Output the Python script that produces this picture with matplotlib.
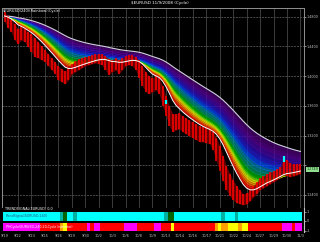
import numpy as np
import pandas as pd
import matplotlib
matplotlib.use("Agg")
import matplotlib.pyplot as plt

title = "$EURUSD 11/9/2008 (Cycle)"
legend_text = "$EURUSD(240)(Rainbow)(Cycle)"

close = [1.4810, 1.4756, 1.4702, 1.4648, 1.4581, 1.4621, 1.4581, 1.4540, 1.4513, 1.4459,
         1.4405, 1.4352, 1.4298, 1.4244, 1.4190, 1.4136, 1.4082, 1.4042, 1.4015, 1.4055,
         1.4109, 1.4150, 1.4176, 1.4190, 1.4203, 1.4217, 1.4230, 1.4244, 1.4244, 1.4244,
         1.4217, 1.4176, 1.4163, 1.4190, 1.4163, 1.4190, 1.4217, 1.4230, 1.4230, 1.4203,
         1.4163, 1.4082, 1.4001, 1.3948, 1.3921, 1.3948, 1.3921, 1.3813, 1.3678, 1.3544,
         1.3436, 1.3436, 1.3449, 1.3409, 1.3382, 1.3355, 1.3328, 1.3301, 1.3274, 1.3261,
         1.3247, 1.3234, 1.3193, 1.3113, 1.3005, 1.2870, 1.2735, 1.2628, 1.2547, 1.2466,
         1.2412, 1.2358, 1.2372, 1.2412, 1.2466, 1.2520, 1.2574, 1.2601, 1.2628, 1.2628,
         1.2655, 1.2682, 1.2709, 1.2735, 1.2722, 1.2709, 1.2722, 1.2735, 1.2749]
high = [1.4864, 1.4810, 1.4756, 1.4702, 1.4635, 1.4675, 1.4635, 1.4594, 1.4567, 1.4513,
        1.4459, 1.4406, 1.4352, 1.4298, 1.4244, 1.4190, 1.4136, 1.4096, 1.4069, 1.4109,
        1.4163, 1.4204, 1.4230, 1.4244, 1.4257, 1.4271, 1.4284, 1.4298, 1.4298, 1.4298,
        1.4271, 1.4230, 1.4217, 1.4244, 1.4217, 1.4244, 1.4271, 1.4284, 1.4284, 1.4257,
        1.4217, 1.4136, 1.4055, 1.4002, 1.3975, 1.4002, 1.3975, 1.3867, 1.3732, 1.3598,
        1.3490, 1.3490, 1.3503, 1.3463, 1.3436, 1.3409, 1.3382, 1.3355, 1.3328, 1.3315,
        1.3301, 1.3288, 1.3247, 1.3167, 1.3059, 1.2924, 1.2789, 1.2682, 1.2601, 1.2520,
        1.2466, 1.2412, 1.2426, 1.2466, 1.2520, 1.2574, 1.2628, 1.2655, 1.2682, 1.2709,
        1.2722, 1.2749, 1.2776, 1.2897, 1.2870, 1.2830, 1.2816, 1.2816, 1.2816]
low = [1.4729, 1.4648, 1.4594, 1.4486, 1.4432, 1.4486, 1.4459, 1.4392, 1.4325, 1.4257,
       1.4244, 1.4217, 1.4190, 1.4136, 1.4082, 1.4028, 1.3948, 1.3921, 1.3894, 1.3948,
       1.4028, 1.4055, 1.4082, 1.4109, 1.4136, 1.4150, 1.4163, 1.4176, 1.4163, 1.4150,
       1.4082, 1.4015, 1.4055, 1.4082, 1.4028, 1.4082, 1.4136, 1.4150, 1.4136, 1.4082,
       1.3975, 1.3867, 1.3786, 1.3759, 1.3786, 1.3813, 1.3759, 1.3598, 1.3463, 1.3328,
       1.3247, 1.3274, 1.3288, 1.3247, 1.3220, 1.3193, 1.3166, 1.3140, 1.3113, 1.3113,
       1.3099, 1.3086, 1.3005, 1.2857, 1.2722, 1.2587, 1.2466, 1.2385, 1.2331, 1.2291,
       1.2278, 1.2264, 1.2278, 1.2318, 1.2372, 1.2412, 1.2466, 1.2493, 1.2520, 1.2547,
       1.2574, 1.2601, 1.2641, 1.2668, 1.2655, 1.2641, 1.2655, 1.2668, 1.2682]

price_ticks = [1.48, 1.44, 1.40, 1.36, 1.32, 1.28, 1.24]
date_labels = ["9/19", "9/22", "9/23", "9/25", "9/26", "9/29", "9/30", "10/2", "10/3",
               "10/6", "10/8", "10/9", "10/13", "10/14", "10/16", "10/17", "10/21",
               "10/22", "10/24", "10/27", "10/29", "10/30", "11/3"]
cyan_marks = [(48, 1.3624, 1.3678), (83, 1.2843, 1.2924)]

signal_runs = [("c", 17), ("t", 1), ("d", 1), ("c", 2), ("t", 1), ("c", 26), ("t", 1),
               ("d", 2), ("c", 14), ("t", 1), ("c", 3), ("t", 1), ("c", 19)]
cycle_runs = [("m", 11), ("r", 6), ("o", 1), ("y", 1), ("r", 6), ("m", 1), ("r", 1),
              ("m", 2), ("r", 7), ("m", 4), ("r", 5), ("m", 2), ("r", 3), ("y", 1),
              ("r", 12), ("o", 1), ("y", 1), ("o", 2), ("y", 3), ("o", 1), ("y", 2),
              ("r", 10), ("m", 3), ("r", 1), ("m", 2)]

fast_period = 6
ribbon_periods = [7, 8, 9, 10, 11, 12, 13, 15, 17, 19, 21, 24, 27, 30, 34, 38, 43]
ribbon_colors = ["#ff2000", "#ff6000", "#ffa000", "#ffe000", "#c0ff00", "#60e000",
                 "#00c000", "#00a060", "#009090", "#0080c0", "#0050ff", "#2020e0",
                 "#3010c0", "#4a08b0", "#5a0098", "#4e0078", "#400060"]
state_colors = {"c": "#00ffff", "t": "#00b0a0", "d": "#006400", "g": "#00a000",
                "m": "#ff00ff", "r": "#ff0000", "y": "#ffff00", "o": "#ffa000"}

W, H = 320, 242
fig = plt.figure(figsize=(W / 100, H / 100), dpi=100, facecolor="black")

def box(l, t, r, b):
    return [l / W, 1 - b / H, (r - l) / W, (b - t) / H]

n = len(close)
x = np.arange(n)
s = pd.Series(close)
xl = (-0.76, 89.06)

ax = fig.add_axes(box(2, 8, 304, 207.7))
ax.set_facecolor("black")
ax.set_xlim(*xl)
ax.set_ylim(1.2228, 1.4917)
ticks = np.arange(0, n, 4)
for t in ticks[1:]:
    ax.axvline(t, color="#3c3c3c", lw=0.7, zorder=0)
for p in price_ticks:
    ax.axhline(p, color="#4a4a4a", lw=0.7, ls=(0, (2, 1)), zorder=0)

fast = s.ewm(span=fast_period, adjust=False).mean().values
emas = [s.ewm(span=p, adjust=False).mean().values for p in ribbon_periods]
ax.fill_between(x, fast, emas[0], color="#ff0000", lw=0, alpha=0.7, zorder=1)
for i in range(len(emas) - 1):
    ax.fill_between(x, emas[i], emas[i + 1], color=ribbon_colors[i], lw=0, alpha=0.72, zorder=1)
for i, e in enumerate(emas[:-1]):
    ax.plot(x, e, color=ribbon_colors[i], lw=0.4, zorder=2)
ax.plot(x, emas[-1], color="#d0d0e0", lw=0.8, zorder=3)

ax.fill_between(x, low, high, color="#800000", lw=0, alpha=0.8, zorder=4)
ax.vlines(x, low, high, color="#ff0000", lw=1.1, zorder=4)
ax.plot(x, fast, color="white", lw=0.7, zorder=5)
for b, lo, hi in cyan_marks:
    ax.vlines(b, lo, hi, color="#00ffff", lw=1.6, zorder=6)

ax.set_xticks([])
ax.yaxis.tick_right()
ax.set_yticks(price_ticks)
near = int(np.argmin([abs(p - close[-1]) for p in price_ticks]))
ax.set_yticklabels(["" if i == near else f"{p:.4f}" for i, p in enumerate(price_ticks)])
ax.tick_params(axis="y", colors="#c0c0c0", labelsize=2.4, length=1.5, width=0.5, pad=0.6)
for sp in ax.spines.values():
    sp.set_color("#909090")
    sp.set_linewidth(0.7)
ax.text(0.003, 0.997, legend_text, transform=ax.transAxes, va="top", ha="left",
        fontsize=2.6, color="white")
ax.text(1.009, close[-1], f"{close[-1]:.4f}", transform=ax.get_yaxis_transform(),
        va="center", ha="left", fontsize=2.4, color="#103010",
        bbox=dict(boxstyle="square,pad=0.15", fc="#90e090", ec="none"))

fig.text(159.5 / W, 1 - 3 / H, title, ha="center", va="center", fontsize=3.0, color="white")

def expand(runs):
    out = []
    for k, c in runs:
        out += [k] * c
    return out

sig = expand(signal_runs)
cyc = expand(cycle_runs)

axb = fig.add_axes(box(2, 208, 304, 232))
axb.set_facecolor("black")
axb.set_xlim(*xl)
axb.set_ylim(0, 24)
axb.bar(x, 9.3, bottom=11, width=1.02, color=[state_colors[k] for k in sig], lw=0)
axb.bar(x, 8, bottom=1.3, width=1.02, color=[state_colors[k] for k in cyc], lw=0)
axb.set_xticks(ticks)
axb.set_xticklabels(date_labels)
axb.tick_params(axis="x", colors="#c0c0c0", labelsize=2.5, length=0, pad=1.5)
axb.yaxis.tick_right()
axb.set_yticks([20.3, 11, 1.3])
axb.set_yticklabels(["1", "0", "-1"])
axb.tick_params(axis="y", colors="#c0c0c0", labelsize=2.4, length=1.5, width=0.5, pad=0.5)
for k, sp in axb.spines.items():
    sp.set_visible(k == "right")
    sp.set_color("#c0c0c0")
axb.text(0.003, 22.5, "TRENDSIGNAL(EURUSD) 0,0", fontsize=2.4, color="white", va="center")
axb.text(0.5, 15.6, "TrendSignal(EURUSD,240)", fontsize=2.3, color="#305080", va="center")
axb.text(0.5, 5.3, "PHCycle(EURUSD,240,20,Cycle Indicator)", fontsize=2.3, color="white", va="center")

fig.savefig("out.png", dpi=100, facecolor="black")
